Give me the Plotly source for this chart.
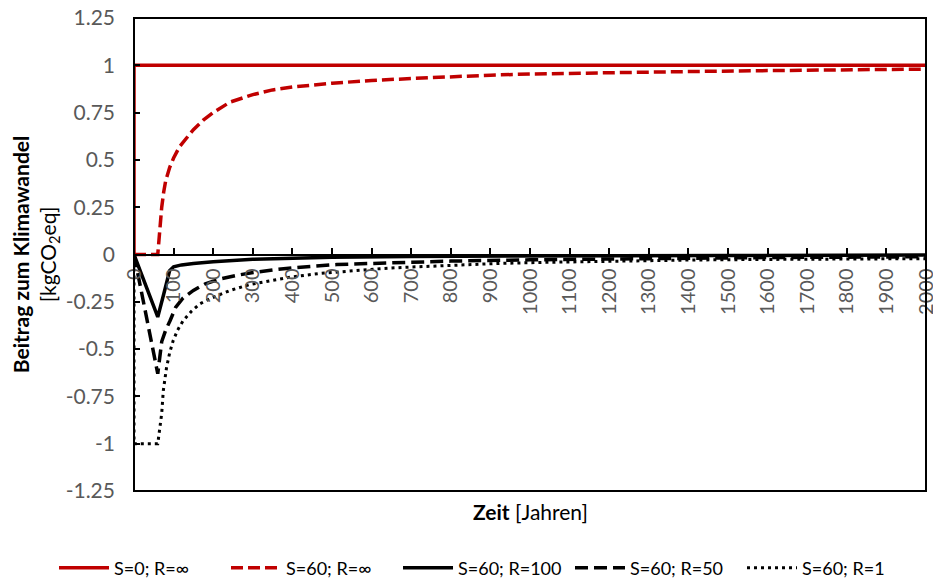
import plotly.graph_objects as go

# ---- data ----
names = ["S=0; R=∞", "S=60; R=∞", "S=60; R=100", "S=60; R=50", "S=60; R=1"]

t_s0_inf = [0, 0, 2000]
v_s0_inf = [0, 1, 1]

t_s60_inf = [0, 60, 62, 66, 70, 75, 80, 90, 100, 115, 134, 150, 175, 200, 242, 300, 350, 400,
             500, 600, 700, 800, 900, 1000, 1200, 1400, 1600, 1800, 2000]
v_s60_inf = [0, 0, 0.05, 0.17, 0.25, 0.33, 0.39, 0.46, 0.51, 0.57, 0.62, 0.66, 0.71, 0.75, 0.805,
             0.845, 0.87, 0.885, 0.905, 0.92, 0.93, 0.94, 0.948, 0.954, 0.962, 0.967, 0.972, 0.976, 0.98]

t_s60_r100 = [0, 60, 75, 90, 100, 120, 150, 200, 300, 400, 500, 700, 1000, 1500, 2000]
v_s60_r100 = [0, -0.33, -0.21, -0.085, -0.065, -0.055, -0.047, -0.038, -0.025, -0.018, -0.014,
              -0.01, -0.007, -0.005, -0.003]

t_s60_r50 = [0, 60, 70, 80, 91, 105, 124, 150, 180, 217, 260, 301, 350, 402, 512, 664, 800, 1000,
             1200, 1400, 1600, 1800, 2000]
v_s60_r50 = [0, -0.63, -0.46, -0.40, -0.35, -0.28, -0.23, -0.19, -0.155, -0.13, -0.11, -0.095,
             -0.082, -0.07, -0.053, -0.042, -0.035, -0.028, -0.023, -0.019, -0.016, -0.014, -0.012]

t_s60_r1 = [0, 0, 60, 65, 70, 74, 82, 90, 99, 110, 124, 145, 167, 190, 217, 243, 290, 343, 400, 470,
            540, 621, 680, 800, 925, 1050, 1177, 1300, 1413, 1600, 1800, 2000]
v_s60_r1 = [0, -1, -1, -0.93, -0.84, -0.72, -0.6, -0.52, -0.455, -0.4, -0.35, -0.3, -0.26, -0.235,
            -0.21, -0.19, -0.16, -0.138, -0.118, -0.10, -0.087, -0.075, -0.068, -0.056, -0.047,
            -0.041, -0.036, -0.032, -0.029, -0.026, -0.024, -0.022]

x_ticks = list(range(0, 2001, 100))
y_tick_vals = [1.25, 1, 0.75, 0.5, 0.25, 0, -0.25, -0.5, -0.75, -1, -1.25]
y_tick_text = ["1.25", "1", "0.75", "0.5", "0.25", "0", "-0.25", "-0.5", "-0.75", "-1", "-1.25"]

RED = "#C00000"
FONT = "Lato"

fig = go.Figure()
fig.add_trace(go.Scatter(x=t_s0_inf, y=v_s0_inf, name=names[0], mode="lines",
                         line=dict(color=RED, width=3.5)))
fig.add_trace(go.Scatter(x=t_s60_inf, y=v_s60_inf, name=names[1], mode="lines",
                         line=dict(color=RED, width=3.5, dash="12px,5px")))
fig.add_trace(go.Scatter(x=t_s60_r100, y=v_s60_r100, name=names[2], mode="lines",
                         line=dict(color="black", width=3.5)))
fig.add_trace(go.Scatter(x=t_s60_r50, y=v_s60_r50, name=names[3], mode="lines",
                         line=dict(color="black", width=3.5, dash="13px,6px")))
fig.add_trace(go.Scatter(x=t_s60_r1, y=v_s60_r1, name=names[4], mode="lines",
                         line=dict(color="black", width=3, dash="3px,4px")))

fig.update_layout(
    width=933, height=580,
    margin=dict(l=134, r=7, t=18, b=89, autoexpand=False),
    plot_bgcolor="white", paper_bgcolor="white",
    font=dict(family=FONT, size=20, color="black"),
    showlegend=True,
    legend=dict(orientation="h", x=-0.101, xanchor="left", y=-0.163, yanchor="middle",
                font=dict(size=18, color="black"), itemwidth=50,
                entrywidth=107, entrywidthmode="pixels"),
    xaxis=dict(range=[0, 2000], anchor="free", position=0.5, showline=True, linecolor="black",
               linewidth=2, ticks="inside", ticklen=6, tickwidth=1.5, tickcolor="black",
               tickvals=x_ticks, tickangle=-90, showgrid=False, zeroline=False,
               tickfont=dict(size=20, color="#595959"), ticklabelstandoff=5,
               ticklabeloverflow="allow"),
    yaxis=dict(range=[-1.25, 1.25], showline=False, ticks="inside", ticklen=6, tickwidth=1.5,
               tickcolor="black", tickvals=y_tick_vals, ticktext=y_tick_text, showgrid=False,
               zeroline=False, tickfont=dict(size=21, color="#595959"), ticklabelstandoff=18,
               title=dict(text="<b>Beitrag zum Klimawandel</b><br>[kgCO<sub>2</sub>eq]",
                          font=dict(size=21, color="black"), standoff=3)),
    shapes=[dict(type="rect", xref="paper", yref="paper", x0=0, x1=1, y0=0, y1=1,
                 line=dict(color="black", width=2), layer="above")],
    annotations=[dict(text="<b>Zeit</b> [Jahren]", xref="paper", yref="paper", x=0.5, y=-0.044,
                      xanchor="center", yanchor="middle", showarrow=False,
                      font=dict(size=21, color="black"))],
)

fig.write_html("out.html")
